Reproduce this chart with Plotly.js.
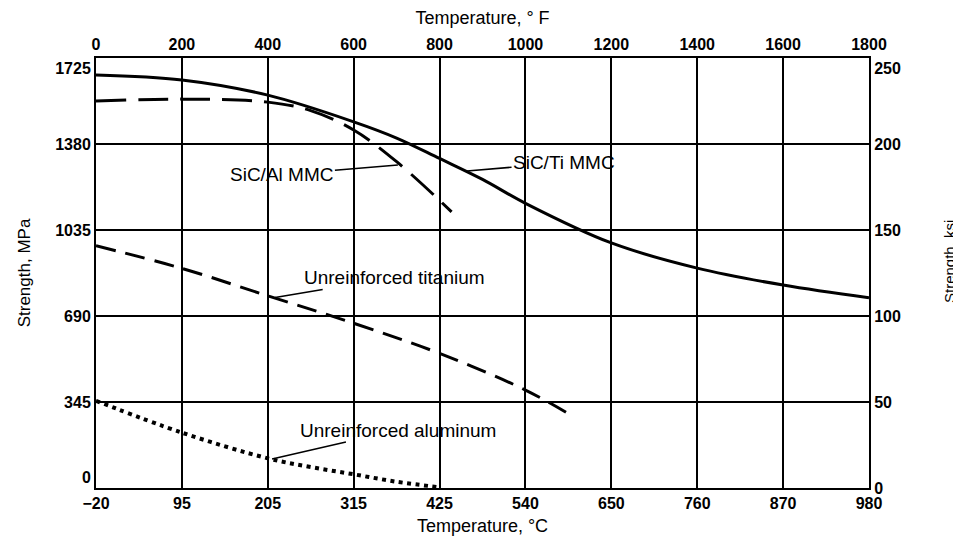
<!DOCTYPE html>
<html>
<head>
<meta charset="utf-8">
<script src="https://cdn.plot.ly/plotly-3.0.1.min.js"></script>
<style>html,body{margin:0;padding:0;background:#fff;}#chart{width:953px;height:540px;}</style>
</head>
<body>
<div id="chart"></div>
<script>
// ---- Data (temperature in °F, strength in MPa) ----
const fTicks = [0, 200, 400, 600, 800, 1000, 1200, 1400, 1600, 1800];
const cTickLabels = ['\u221220', '95', '205', '315', '425', '540', '650', '760', '870', '980'];
const mpaTicks = [0, 345, 690, 1035, 1380, 1725];
const mpaTickLabels = ['0<br> ', '345', '690', '1035', '1380', ' <br>1725'];
const ksiTicks = [0, 50, 100, 150, 200, 250];
const ksiTickLabels = ['0', '50', '100', '150', '200', ' <br>250'];

const sicTiTemp = [0, 200, 400, 600, 700, 800, 900, 1000, 1200, 1400, 1600, 1800];
const sicTiMPa  = [1657, 1637, 1576, 1469, 1404, 1322, 1238, 1142, 983, 882, 814, 763];

const sicAlTemp = [0, 200, 400, 500, 600, 700, 828];
const sicAlMPa  = [1553, 1560, 1548, 1514, 1436, 1309, 1108];

const tiTemp = [0, 200, 400, 600, 800, 1000, 1102];
const tiMPa  = [972, 881, 771, 661, 540, 393, 296];

const alTemp = [0, 200, 400, 500, 600, 700, 800];
const alMPa  = [350, 222, 119, 84, 55, 25, 3];

const tickFont = {family: '"Liberation Sans", Arial, Helvetica, sans-serif', size: 16, color: '#000', weight: 'bold'};
const labelFont = {family: '"Liberation Sans", Arial, Helvetica, sans-serif', size: 19, color: '#000'};
const titleFont = {family: '"Liberation Sans", Arial, Helvetica, sans-serif', size: 18, color: '#000'};

const traces = [
  {x: sicTiTemp, y: sicTiMPa, mode: 'lines', line: {color: '#000', width: 3, shape: 'spline'}, hoverinfo: 'skip'},
  {x: sicAlTemp, y: sicAlMPa, mode: 'lines', line: {color: '#000', width: 3, shape: 'spline', dash: '30px,12px'}, hoverinfo: 'skip'},
  {x: tiTemp, y: tiMPa, mode: 'lines', line: {color: '#000', width: 3, shape: 'spline', dash: '20px,10px'}, hoverinfo: 'skip'},
  {x: alTemp, y: alMPa, mode: 'lines', line: {color: '#000', width: 4, shape: 'spline', dash: '4px,4.5px'}, hoverinfo: 'skip'},
  {x: [], y: [], xaxis: 'x2', yaxis: 'y2', mode: 'lines', hoverinfo: 'skip', showlegend: false}
];

const axisCommon = {
  showline: true, linecolor: '#000', linewidth: 2, mirror: false,
  showgrid: true, gridcolor: '#000', gridwidth: 2,
  zeroline: false, ticks: '', tickfont: tickFont, fixedrange: true
};

const layout = {
  width: 953, height: 540,
  margin: {l: 96, r: 84, t: 58, b: 52},
  paper_bgcolor: '#fff', plot_bgcolor: '#fff',
  showlegend: false,
  xaxis: Object.assign({}, axisCommon, {
    range: [0, 1800], tickmode: 'array', tickvals: fTicks, ticktext: cTickLabels,
    title: {text: 'Temperature, \u00b0C', font: titleFont, standoff: 8}
  }),
  xaxis2: Object.assign({}, axisCommon, {
    overlaying: 'x', side: 'top', range: [0, 1800], tickmode: 'array', tickvals: fTicks,
    ticktext: fTicks.map(String), showgrid: false,
    title: {text: 'Temperature, \u00b0 F', font: titleFont, standoff: 6}
  }),
  yaxis: Object.assign({}, axisCommon, {
    range: [0, 1725], tickmode: 'array', tickvals: mpaTicks, ticktext: mpaTickLabels,
    title: {text: 'Strength, MPa', font: {family: titleFont.family, size: 17, color: '#000'}, standoff: 20}
  }),
  yaxis2: Object.assign({}, axisCommon, {
    overlaying: 'y', side: 'right', range: [0, 1725 / 6.895], tickmode: 'array', tickvals: ksiTicks,
    ticktext: ksiTickLabels, showgrid: false
  }),
  annotations: [
    {x: 703, y: 1296, xref: 'x', yref: 'y', text: 'SiC/Al MMC', showarrow: true, arrowhead: 0, arrowwidth: 1.5, arrowcolor: '#000', ax: -116, ay: 10, font: labelFont},
    {x: 864, y: 1272, xref: 'x', yref: 'y', text: 'SiC/Ti MMC', showarrow: true, arrowhead: 0, arrowwidth: 1.5, arrowcolor: '#000', ax: 97, ay: -8, font: labelFont},
    {x: 417, y: 764, xref: 'x', yref: 'y', text: 'Unreinforced titanium', showarrow: true, arrowhead: 0, arrowwidth: 1.5, arrowcolor: '#000', ax: 119, ay: -20, font: labelFont},
    {x: 410, y: 116, xref: 'x', yref: 'y', text: 'Unreinforced aluminum', showarrow: true, arrowhead: 0, arrowwidth: 1.5, arrowcolor: '#000', ax: 126, ay: -29, font: labelFont},
    {x: (949 - 96) / 773, y: (488 - 262) / 430, xref: 'paper', yref: 'paper', text: 'Strength, ksi', showarrow: false, textangle: -90, xanchor: 'center', yanchor: 'middle', font: {family: titleFont.family, size: 15, color: '#000'}}
  ]
};

Plotly.newPlot('chart', traces, layout, {displayModeBar: false, staticPlot: true});
</script>
</body>
</html>
